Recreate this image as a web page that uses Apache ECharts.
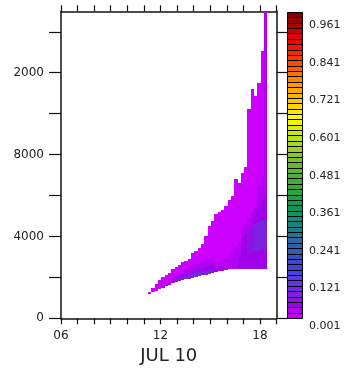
<!DOCTYPE html>
<html>
<head>
<meta charset="utf-8">
<script src="https://cdn.jsdelivr.net/npm/echarts@6/dist/echarts.min.js"></script>
<style>
  html, body { margin: 0; padding: 0; background: #fff; }
  #chart { width: 349px; height: 371px; }
</style>
</head>
<body>
<div id="chart"></div>
<script>
// Time bin edges (hours of JUL 10), one column per bin
const binEdges = [
  11.25, 11.45, 11.65, 11.85, 12.05, 12.25, 12.45, 12.65, 12.85, 13.05,
  13.25, 13.45, 13.65, 13.85, 14.05, 14.25, 14.45, 14.65, 14.85, 15.05,
  15.25, 15.45, 15.65, 15.85, 16.05, 16.25, 16.45, 16.65, 16.85, 17.05,
  17.25, 17.45, 17.65, 17.85, 18.05, 18.25, 18.45
];

// Per-column profile: [lower height, upper height, value] segments
const columns = [
  [[1170, 1270, 0.01]],
  [[1270, 1500, 0.01]],
  [[1340, 1700, 0.01]],
  [[1415, 1850, 0.01]],
  [[1490, 1600, 0.03], [1600, 2000, 0.01]],
  [[1560, 1680, 0.03], [1680, 2100, 0.01]],
  [[1630, 1760, 0.04], [1760, 2220, 0.01]],
  [[1710, 1840, 0.05], [1840, 1980, 0.03], [1980, 2390, 0.01]],
  [[1760, 1900, 0.06], [1900, 2050, 0.03], [2050, 2490, 0.01]],
  [[1800, 1950, 0.07], [1950, 2120, 0.04], [2120, 2585, 0.01]],
  [[1850, 2000, 0.08], [2000, 2180, 0.04], [2180, 2730, 0.01]],
  [[1900, 2050, 0.08], [2050, 2250, 0.05], [2250, 2450, 0.02], [2450, 2780, 0.01]],
  [[1930, 2100, 0.09], [2100, 2300, 0.05], [2300, 2500, 0.02], [2500, 2900, 0.01]],
  [[1975, 2150, 0.09], [2150, 2350, 0.06], [2350, 2600, 0.03], [2600, 3170, 0.01]],
  [[2000, 2200, 0.09], [2200, 2400, 0.06], [2400, 2650, 0.03], [2650, 3270, 0.01]],
  [[2050, 2250, 0.09], [2250, 2450, 0.06], [2450, 2700, 0.03], [2700, 3415, 0.01]],
  [[2100, 2300, 0.08], [2300, 2500, 0.05], [2500, 2800, 0.03], [2800, 3610, 0.01]],
  [[2120, 2300, 0.08], [2300, 2550, 0.05], [2550, 2850, 0.02], [2850, 4000, 0.01]],
  [[2170, 2350, 0.07], [2350, 2600, 0.04], [2600, 2900, 0.02], [2900, 4490, 0.01]],
  [[2220, 2400, 0.06], [2400, 2650, 0.04], [2650, 2950, 0.02], [2950, 4730, 0.01]],
  [[2240, 2450, 0.05], [2450, 2700, 0.03], [2700, 5120, 0.01]],
  [[2290, 2500, 0.04], [2500, 2750, 0.03], [2750, 5170, 0.01]],
  [[2320, 2550, 0.04], [2550, 2800, 0.02], [2800, 5270, 0.01]],
  [[2340, 2600, 0.03], [2600, 2900, 0.02], [2900, 5510, 0.01]],
  [[2410, 2700, 0.03], [2700, 3100, 0.02], [3100, 5760, 0.01]],
  [[2410, 2800, 0.03], [2800, 3300, 0.02], [3300, 6000, 0.01]],
  [[2410, 2900, 0.03], [2900, 3500, 0.03], [3500, 6800, 0.01]],
  [[2410, 3000, 0.04], [3000, 3700, 0.03], [3700, 6630, 0.01]],
  [[2410, 3000, 0.04], [3000, 3900, 0.04], [3900, 4400, 0.02], [4400, 7120, 0.01]],
  [[2410, 3100, 0.04], [3100, 4100, 0.05], [4100, 4600, 0.03], [4600, 7410, 0.01]],
  [[2410, 3200, 0.04], [3200, 4300, 0.06], [4300, 4900, 0.03], [4900, 10240, 0.01]],
  [[2410, 3200, 0.04], [3200, 4500, 0.06], [4500, 5200, 0.03], [5200, 11220, 0.01]],
  [[2410, 3300, 0.05], [3300, 4600, 0.07], [4600, 5400, 0.04], [5400, 10880, 0.01]],
  [[2410, 3300, 0.05], [3300, 4700, 0.07], [4700, 5600, 0.04], [5600, 6500, 0.02], [6500, 11510, 0.01]],
  [[2410, 3400, 0.05], [3400, 4800, 0.07], [4800, 5800, 0.04], [5800, 7000, 0.02], [7000, 13070, 0.01]],
  [[2410, 3400, 0.05], [3400, 4800, 0.07], [4800, 6000, 0.05], [6000, 7500, 0.03], [7500, 15000, 0.03]]
];

// Axis ticks and labels
const xTickValues = [6, 7, 8, 9, 10, 11, 12, 13, 14, 15, 16, 17, 18, 19];
const xLabelValues = [6, 12, 18];
const xLabels = ['06', '12', '18'];
const yTickValues = [0, 2000, 4000, 6000, 8000, 10000, 12000, 14000];
const yLabelValues = [0, 4000, 8000, 12000];
const yLabels = ['0', '4000', '8000', '2000'];

// Colour levels
const levelStart = 0.001;
const levelStep = 0.0171429;
const levelCount = 57;
const barLabelValues = [0.001, 0.121, 0.241, 0.361, 0.481, 0.601, 0.721, 0.841, 0.961];
const barLabels = ['0.001', '0.121', '0.241', '0.361', '0.481', '0.601', '0.721', '0.841', '0.961'];

// Palette stops along the colour bar (0 = bottom, 1 = top)
const paletteStops = [
  [0.00, '#cc00ff'], [0.035, '#a000e8'], [0.07, '#8020e0'], [0.12, '#5a38f0'],
  [0.16, '#4040e0'], [0.20, '#3355c0'], [0.25, '#2a6aa0'], [0.29, '#1a7e8a'],
  [0.33, '#10906a'], [0.37, '#0a9a50'], [0.42, '#30a838'], [0.50, '#68b830'],
  [0.57, '#a8d828'], [0.63, '#e0f000'], [0.655, '#ffff00'], [0.70, '#ffd000'],
  [0.76, '#ffa000'], [0.82, '#ff6000'], [0.88, '#ff2000'], [0.905, '#ff0000'],
  [0.95, '#c00000'], [1.00, '#880000']
];

function hexToRgb(h) {
  return [parseInt(h.slice(1, 3), 16), parseInt(h.slice(3, 5), 16), parseInt(h.slice(5, 7), 16)];
}
function paletteAt(f) {
  for (let i = 1; i < paletteStops.length; i++) {
    const a = paletteStops[i - 1], b = paletteStops[i];
    if (f <= b[0]) {
      const t = (f - a[0]) / (b[0] - a[0]);
      const ca = hexToRgb(a[1]), cb = hexToRgb(b[1]);
      const c = ca.map((v, k) => Math.round(v + (cb[k] - v) * t));
      return 'rgb(' + c.join(',') + ')';
    }
  }
  return paletteStops[paletteStops.length - 1][1];
}
const bandColors = [];
for (let k = 0; k < levelCount; k++) bandColors.push(paletteAt(k / (levelCount - 1)));

function colorFor(v) {
  let k = Math.floor((v - levelStart) / levelStep);
  k = Math.max(0, Math.min(levelCount - 1, k));
  return bandColors[k];
}

// Flatten column profiles into cells [t0, t1, z0, z1, value]
const cells = [];
columns.forEach((segs, i) => {
  segs.forEach(s => cells.push([binEdges[i], binEdges[i + 1], s[0], s[1], s[2]]));
});

// Colour bar bands [index, low, high]
const bands = [];
for (let k = 0; k < levelCount; k++) {
  bands.push([k, levelStart + k * levelStep, levelStart + (k + 1) * levelStep]);
}
const barMax = levelStart + levelCount * levelStep;

const FONT = 'DejaVu Sans';
const AXIS_COLOR = '#111';

const chart = echarts.init(document.getElementById('chart'), null, { renderer: 'canvas' });

chart.setOption({
  animation: false,
  backgroundColor: '#fff',
  grid: [
    { left: 61, top: 11.3, width: 215.5, height: 307, containLabel: false },
    { left: 287, top: 12, width: 16, height: 306, containLabel: false }
  ],
  xAxis: [
    {
      gridIndex: 0, type: 'value', min: 6, max: 19, position: 'bottom',
      axisLine: { show: true, onZero: false, lineStyle: { color: AXIS_COLOR, width: 1.5 } },
      axisTick: { show: true, inside: false, length: 6, customValues: xTickValues,
                  lineStyle: { color: AXIS_COLOR, width: 1.2 } },
      axisLabel: { show: true, customValues: xLabelValues, margin: 12,
                   fontFamily: FONT, fontSize: 12, color: '#222',
                   formatter: v => xLabels[xLabelValues.indexOf(v)] },
      splitLine: { show: false },
      name: 'JUL 10', nameLocation: 'middle', nameGap: 28,
      nameTextStyle: { fontFamily: FONT, fontSize: 18, color: '#222' }
    },
    {
      gridIndex: 0, type: 'value', min: 6, max: 19, position: 'top',
      axisLine: { show: true, onZero: false, lineStyle: { color: AXIS_COLOR, width: 1.5 } },
      axisTick: { show: true, inside: false, length: 6, customValues: xTickValues,
                  lineStyle: { color: AXIS_COLOR, width: 1.2 } },
      axisLabel: { show: false },
      splitLine: { show: false }
    },
    {
      gridIndex: 1, type: 'value', min: 0, max: 1, show: false
    }
  ],
  yAxis: [
    {
      gridIndex: 0, type: 'value', min: 0, max: 15000, position: 'left',
      axisLine: { show: true, onZero: false, lineStyle: { color: AXIS_COLOR, width: 1.5 } },
      axisTick: { show: true, inside: false, length: 12, customValues: yTickValues,
                  lineStyle: { color: AXIS_COLOR, width: 1.2 } },
      axisLabel: { show: true, customValues: yLabelValues, margin: 17,
                   fontFamily: FONT, fontSize: 12, color: '#222',
                   formatter: v => yLabels[yLabelValues.indexOf(v)] },
      splitLine: { show: false }
    },
    {
      gridIndex: 0, type: 'value', min: 0, max: 15000, position: 'right',
      axisLine: { show: true, onZero: false, lineStyle: { color: AXIS_COLOR, width: 1.5 } },
      axisTick: { show: true, inside: false, length: 11, customValues: yTickValues,
                  lineStyle: { color: AXIS_COLOR, width: 1.2 } },
      axisLabel: { show: false },
      splitLine: { show: false }
    },
    {
      gridIndex: 1, type: 'value', min: levelStart, max: barMax, position: 'right',
      axisLine: { show: false }, axisTick: { show: false }, splitLine: { show: false },
      axisLabel: { show: true, customValues: barLabelValues, margin: 6,
                   fontFamily: FONT, fontSize: 11, color: '#222',
                   verticalAlign: 'top', lineHeight: 12, padding: [2, 0, 0, 0],
                   formatter: v => barLabels[barLabelValues.indexOf(v)] }
    }
  ],
  series: [
    {
      type: 'custom',
      xAxisIndex: 0, yAxisIndex: 0,
      clip: true,
      encode: { x: [0, 1], y: [2, 3] },
      data: cells,
      renderItem: (params, api) => {
        const p0 = api.coord([api.value(0), api.value(3)]);
        const p1 = api.coord([api.value(1), api.value(2)]);
        const x = Math.round(p0[0]), y = Math.round(p0[1]);
        return {
          type: 'rect',
          shape: { x: x, y: y, width: Math.round(p1[0]) - x, height: Math.round(p1[1]) - y },
          style: { fill: colorFor(api.value(4)) }
        };
      }
    },
    {
      type: 'custom',
      xAxisIndex: 2, yAxisIndex: 2,
      encode: { y: [1, 2] },
      data: bands,
      renderItem: (params, api) => {
        const p0 = api.coord([0, api.value(2)]);
        const p1 = api.coord([1, api.value(1)]);
        const x = Math.round(p0[0]) + 0.5, y = Math.round(p0[1]) + 0.5;
        return {
          type: 'rect',
          shape: { x: x, y: y, width: Math.round(p1[0]) - Math.round(p0[0]) - 1,
                   height: Math.round(p1[1]) - Math.round(p0[1]) },
          style: { fill: bandColors[api.value(0)], stroke: '#000', lineWidth: 1 }
        };
      }
    }
  ]
});
</script>
</body>
</html>
